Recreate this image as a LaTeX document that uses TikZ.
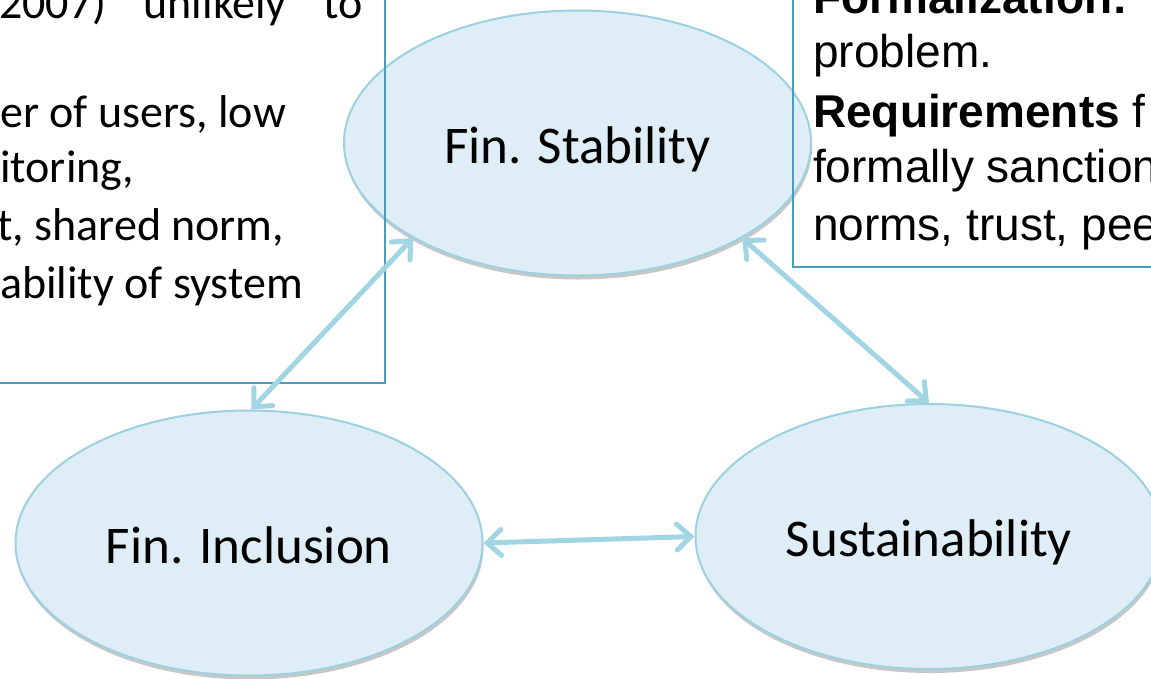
\documentclass[tikz,border=0pt]{standalone}
\usepackage{fontspec}
\setmainfont{Carlito}
\newfontfamily\arialf{Liberation Sans}
\usetikzlibrary{shapes.geometric,arrows.meta,shadows}
\definecolor{ellfill}{HTML}{DFEEF6}
\definecolor{elldraw}{HTML}{9DD0E0}
\definecolor{arrowc}{HTML}{A2D5E3}
\definecolor{boxc}{HTML}{4A9FB8}
\begin{document}
\begin{tikzpicture}[x=1pt,y=-1pt,
  ell/.style={ellipse, draw=elldraw, line width=2pt, fill=ellfill,
    minimum width=467pt, minimum height=265pt, inner sep=0pt,
    font=\fontsize{53pt}{64pt}\selectfont, text height=40pt, text depth=0pt,
    drop shadow={shadow xshift=1pt, shadow yshift=-4pt, opacity=0.22, fill=black}},
  conn/.style={draw=arrowc, line width=5pt,
    {Straight Barb[length=14pt,width=26pt,line cap=round]}-{Straight Barb[length=14pt,width=26pt,line cap=round]}},
  frame/.style={draw=boxc, line width=1.5pt},
  ltxt/.style={anchor=base west, inner sep=0pt, font=\fontsize{46pt}{57pt}\selectfont},
  rtxt/.style={anchor=base west, inner sep=0pt, font=\arialf\fontsize{46pt}{57pt}\selectfont}
]
\useasboundingbox (0,0) rectangle (1151,678);
\clip (0,0) rectangle (1151,678);

% ellipses
\node[ell] (fs) at (577.5,143) {Fin. Stability};
\node[ell] (fi) at (249,543) {Fin. Inclusion};
\node[ell] (su) at (929,536.5) {Sustainability};

% text frames
\draw[frame] (-10,-10) rectangle (385,383);
\draw[frame] (793,-10) rectangle (1165,267);

% left box text
\node[ltxt] (l1) at (-1,18) {\hbox to 364pt{2007)\hfil unlikely\hfil to}};
\node[ltxt] (l2) at (0,127) {er of users, low};
\node[ltxt] (l3) at (0,182) {itoring,};
\node[ltxt] (l4) at (-3,240) {t, shared norm,};
\node[ltxt] (l5) at (0,298) {ability of system};

% right box text
\node[rtxt] (r1) at (813,13) {\textbf{Formalization:}};
\node[rtxt] (r2) at (813,67) {problem.};
\node[rtxt] (r3) at (813,127) {\textbf{Requirements} f};
\node[rtxt] (r4) at (813,182) {formally sanction};
\node[rtxt] (r5) at (813,240) {norms, trust, pee};

% connectors
\draw[conn] (fs.210) -- (fi.89);
\draw[conn] (fs.330) -- (su.90);
\draw[conn] (fi.0) -- (su.180);
\end{tikzpicture}
\end{document}
